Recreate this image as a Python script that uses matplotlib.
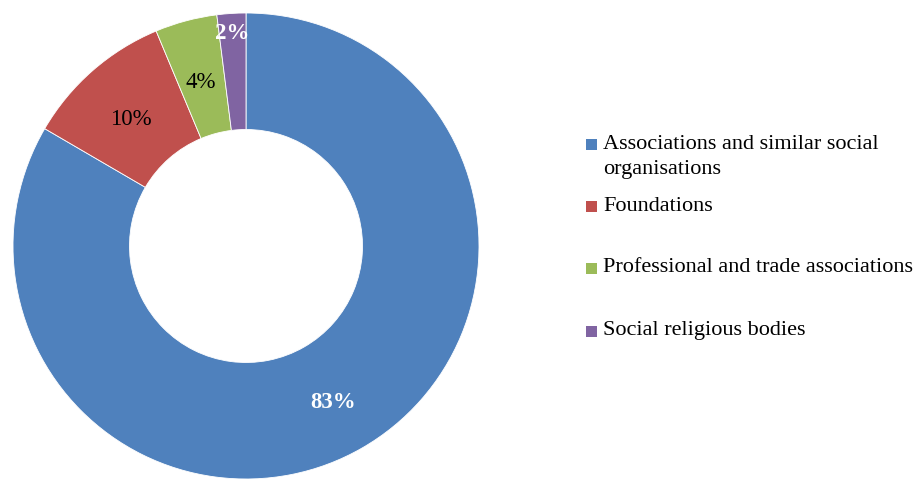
import numpy as np
import matplotlib.pyplot as plt
from matplotlib.patches import Rectangle

plt.rcParams['font.family'] = ['Liberation Serif', 'DejaVu Serif']

# Data
categories = ["Associations and similar social\norganisations", "Foundations",
              "Professional and trade associations", "Social religious bodies"]
shares = [83.4, 10.3, 4.3, 2.0]
colors = ['#4F81BD', '#C0504D', '#9BBB59', '#8064A2']
label_colors = ['white', 'black', 'black', 'white']
label_weights = ['bold', 'normal', 'normal', 'bold']

W, H = 915, 479
fig = plt.figure(figsize=(W / 100, H / 100), dpi=100)
ax = fig.add_axes([0, 0, 1, 1])

cx, cy, R = 246, H - 246, 233
wedges, texts, autotexts = ax.pie(
    shares, colors=colors, startangle=90, counterclock=False,
    center=(cx, cy), radius=R, autopct=lambda p: f'{p:.0f}%', pctdistance=0.75,
    wedgeprops=dict(width=R * 0.5, edgecolor='white', linewidth=0.6),
    textprops=dict(fontsize=16.5))

for t, c, w in zip(autotexts, label_colors, label_weights):
    t.set_color(c)
    t.set_fontweight(w)
    x, y = t.get_position()
    t.set_position((x, y - 5))

# the small slice label sits near the outer rim
cum = np.cumsum(shares) - np.array(shares) / 2
ang = np.deg2rad(90 - cum[3] / 100 * 360)
autotexts[3].set_position((cx + 0.915 * R * np.cos(ang), cy + 0.915 * R * np.sin(ang)))

ax.set_xlim(0, W)
ax.set_ylim(0, H)
ax.set_aspect('auto')
ax.axis('off')

# Legend
leg_y = [144, 206, 268, 331]
for lab, col, y in zip(categories, colors, leg_y):
    ax.add_patch(Rectangle((586, H - y - 5.5), 11, 11, facecolor=col, edgecolor='none'))
    ty = y + 13 if '\n' in lab else y
    ax.text(603, H - ty, lab, fontsize=16, va='center', ha='left', linespacing=1.45)

plt.savefig('out.png', dpi=100)
